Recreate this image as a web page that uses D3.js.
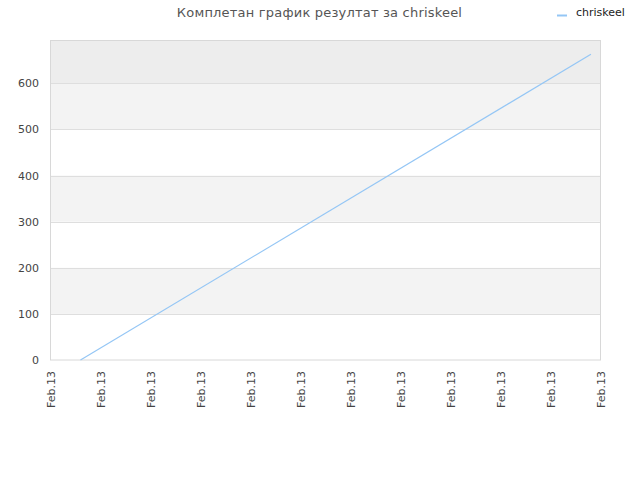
<!DOCTYPE html>
<html>
<head>
<meta charset="utf-8">
<title>Комплетан график</title>
<script src="https://d3js.org/d3.v7.min.js"></script>
<style>
  body { margin: 0; background: #fff; }
  text { font-family: "DejaVu Sans", sans-serif; }
</style>
</head>
<body>
<script>
  // data
  const seriesName = "chriskeel";
  const titleText = "Комплетан график резултат за chriskeel";
  const times = ["2013-02-13T01:12", "2013-02-13T21:37"];
  const values = [0, 663];
  const yTicks = [0, 100, 200, 300, 400, 500, 600];
  const yMax = 693;
  const xStart = "2013-02-13T00:00", xEnd = "2013-02-13T22:00";

  const width = 640, height = 480;
  const margin = { top: 40.5, right: 39.5, bottom: 120, left: 50.5 };
  const parse = d3.timeParse("%Y-%m-%dT%H:%M");

  const svg = d3.select("body").append("svg")
    .attr("width", width)
    .attr("height", height);

  const x = d3.scaleTime()
    .domain([parse(xStart), parse(xEnd)])
    .range([margin.left, width - margin.right]);
  const y = d3.scaleLinear()
    .domain([0, yMax])
    .range([height - margin.bottom, margin.top]);

  // alternating bands
  const bands = [];
  for (let i = 0; i < yTicks.length; i++) {
    const lo = yTicks[i], hi = i + 1 < yTicks.length ? yTicks[i + 1] : yMax;
    if (i === yTicks.length - 1) bands.push({ lo, hi, fill: "#ededed" });
    else if (i % 2 === 1) bands.push({ lo, hi, fill: "#f3f3f3" });
  }
  svg.append("g").selectAll("rect")
    .data(bands)
    .enter().append("rect")
    .attr("x", margin.left)
    .attr("width", x.range()[1] - margin.left)
    .attr("y", d => y(d.hi))
    .attr("height", d => y(d.lo) - y(d.hi))
    .attr("fill", d => d.fill);

  // grid lines
  svg.append("g").selectAll("line")
    .data(yTicks.slice(1))
    .enter().append("line")
    .attr("x1", margin.left).attr("x2", x.range()[1])
    .attr("y1", d => Math.round(y(d)) + 0.5).attr("y2", d => Math.round(y(d)) + 0.5)
    .style("stroke", "#dedede");

  // plot border
  svg.append("rect")
    .attr("x", margin.left).attr("y", margin.top)
    .attr("width", x.range()[1] - margin.left)
    .attr("height", y(0) - margin.top)
    .attr("fill", "none")
    .style("stroke", "#d8d8d8");

  // y axis labels
  svg.append("g").selectAll("text")
    .data(yTicks)
    .enter().append("text")
    .attr("x", 39)
    .attr("y", d => y(d) + 4)
    .attr("text-anchor", "end")
    .style("font-size", "11px")
    .style("fill", "#444")
    .text(d => d);

  // x axis labels
  const fmt = d3.timeFormat("%b.%d");
  const xTicks = x.ticks(d3.timeHour.every(2));
  svg.append("g").selectAll("text")
    .data(xTicks)
    .enter().append("text")
    .attr("transform", d => `translate(${x(d) + 4},371) rotate(-90)`)
    .attr("text-anchor", "end")
    .style("font-size", "11px")
    .style("fill", "#444")
    .text(d => fmt(d));

  // series line
  const pts = times.map((t, i) => ({ t: parse(t), v: values[i] }));
  svg.append("path")
    .datum(pts)
    .attr("fill", "none")
    .style("stroke", "#94c6f5")
    .style("stroke-width", 1.2)
    .attr("d", d3.line().x(d => x(d.t)).y(d => y(d.v)));

  // title
  svg.append("text")
    .attr("x", 319.5)
    .attr("y", 17)
    .attr("text-anchor", "middle")
    .style("font-size", "13px")
    .style("letter-spacing", "0.2px")
    .style("fill", "#555")
    .text(titleText);

  // legend
  svg.append("line")
    .attr("x1", 557).attr("x2", 567)
    .attr("y1", 15.5).attr("y2", 15.5)
    .style("stroke", "#94c6f5")
    .style("stroke-width", 2);
  svg.append("text")
    .attr("x", 576)
    .attr("y", 16)
    .style("font-size", "11px")
    .style("fill", "#222")
    .text(seriesName);
</script>
</body>
</html>
